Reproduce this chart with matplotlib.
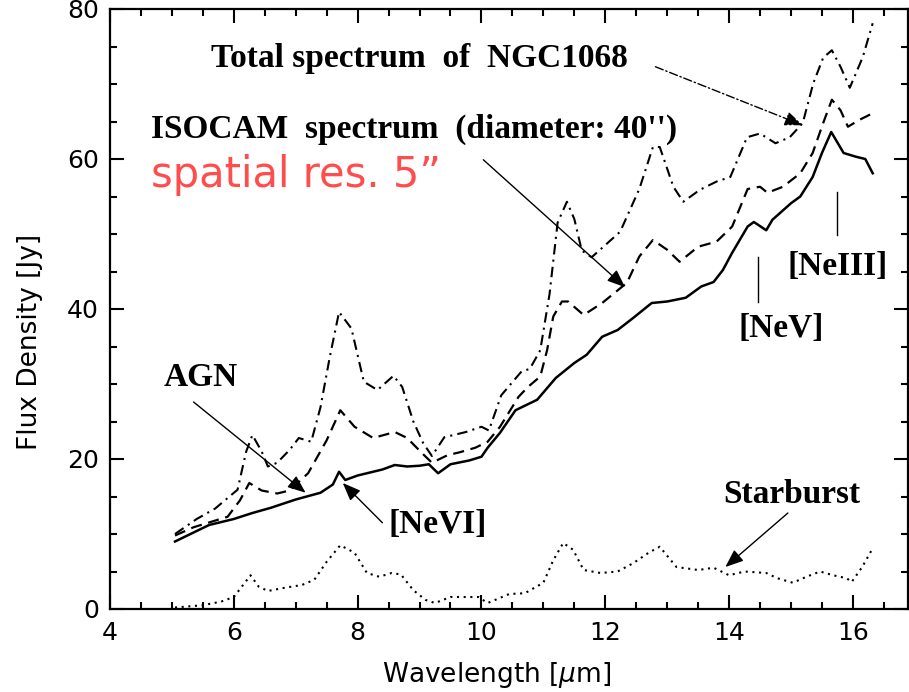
import matplotlib
matplotlib.use("Agg")
import matplotlib.pyplot as plt
from matplotlib.ticker import MultipleLocator

# solid: AGN / central spectrum
agn_x = [5.05, 5.3, 5.6, 6.0, 6.3, 6.6, 7.0, 7.4, 7.6, 7.7, 7.8, 8.0, 8.2, 8.4, 8.6,
         8.8, 9.0, 9.15, 9.3, 9.5, 9.8, 10.0, 10.1, 10.3, 10.55, 10.9, 11.2, 11.5,
         11.7, 11.95, 12.2, 12.45, 12.75, 13.0, 13.3, 13.55, 13.75, 13.9, 14.05,
         14.3, 14.4, 14.6, 14.7, 15.0, 15.15, 15.35, 15.5, 15.65, 15.85, 16.05,
         16.2, 16.32]
agn_y = [9.0, 10.0, 11.2, 12.0, 12.8, 13.5, 14.6, 15.5, 16.6, 18.3, 17.2, 17.8, 18.2,
         18.6, 19.2, 19.0, 19.1, 19.3, 18.1, 19.3, 19.8, 20.3, 21.5, 23.5, 26.5, 27.9,
         30.8, 32.8, 33.9, 36.3, 37.2, 38.8, 40.8, 41.0, 41.5, 43.0, 43.6, 45.2, 47.5,
         51.0, 51.6, 50.5, 51.9, 54.1, 55.0, 57.6, 60.8, 63.6, 60.8, 60.3, 60.0, 58.1]

# dashed: ISOCAM spectrum
iso_x = [5.05, 5.35, 5.9, 6.1, 6.25, 6.45, 6.7, 6.9, 7.2, 7.5, 7.72, 7.95, 8.25, 8.6,
         8.8, 9.05, 9.2, 9.45, 9.65, 9.9, 10.1, 10.3, 10.6, 10.75, 10.95, 11.06, 11.16,
         11.3, 11.4, 11.65, 11.95, 12.35, 12.55, 12.77, 13.0, 13.2, 13.5, 13.8, 14.05,
         14.3, 14.5, 14.62, 14.87, 15.15, 15.35, 15.52, 15.66, 15.8, 15.92, 16.1, 16.32]
iso_y = [9.8, 10.9, 12.3, 14.5, 16.8, 15.8, 15.4, 15.8, 18.1, 22.5, 26.5, 24.3, 22.8,
         23.6, 22.8, 20.7, 19.5, 20.5, 20.9, 21.5, 22.3, 24.3, 28.3, 29.6, 31.0, 34.5,
         39.0, 41.0, 41.0, 39.2, 40.8, 43.5, 47.0, 49.2, 47.9, 46.3, 48.3, 49.0, 51.0,
         56.0, 56.3, 55.5, 56.3, 58.1, 60.8, 64.8, 67.9, 66.5, 64.3, 65.2, 66.1]

# dash-dot: total spectrum of NGC1068
tot_x = [5.05, 5.4, 5.7, 5.9, 6.06, 6.2, 6.3, 6.45, 6.55, 6.7, 6.9, 7.05, 7.25, 7.4,
         7.55, 7.7, 7.9, 8.1, 8.32, 8.58, 8.72, 8.9, 9.06, 9.2, 9.4, 9.75, 10.0, 10.12,
         10.32, 10.65, 10.78, 10.95, 11.1, 11.23, 11.38, 11.5, 11.62, 11.78, 11.97,
         12.24, 12.55, 12.77, 12.88, 13.1, 13.26, 13.53, 13.8, 14.02, 14.29, 14.5,
         14.75, 14.98, 15.19, 15.36, 15.52, 15.66, 15.8, 15.95, 16.16, 16.32]
tot_y = [10.0, 12.0, 13.4, 14.8, 15.9, 21.0, 23.2, 21.0, 19.0, 19.5, 21.2, 22.8, 22.3,
         26.9, 33.6, 39.6, 37.4, 30.3, 29.2, 31.1, 29.6, 25.0, 22.1, 20.4, 22.9, 23.6,
         24.3, 23.8, 28.5, 31.7, 32.0, 34.5, 42.0, 51.5, 54.3, 52.0, 47.8, 46.9, 48.3,
         50.3, 56.0, 61.6, 61.6, 56.3, 54.3, 55.9, 57.0, 57.6, 62.9, 63.4, 62.1, 62.9,
         64.8, 70.1, 73.5, 74.5, 72.3, 69.5, 73.6, 78.1]

# dotted: starburst
sb_x = [5.05, 5.5, 5.8, 6.0, 6.15, 6.27, 6.4, 6.55, 6.8, 7.1, 7.3, 7.5, 7.72, 7.95,
        8.15, 8.35, 8.55, 8.7, 8.9, 9.1, 9.25, 9.5, 9.95, 10.1, 10.45, 10.7, 11.0,
        11.16, 11.32, 11.48, 11.65, 11.92, 12.2, 12.45, 12.7, 12.88, 13.15, 13.5,
        13.75, 14.0, 14.25, 14.6, 14.78, 15.03, 15.25, 15.47, 15.68, 15.9, 15.98,
        16.15, 16.32]
sb_y = [0.2, 0.5, 1.0, 1.6, 3.2, 4.5, 3.0, 2.4, 2.8, 3.2, 3.9, 6.3, 8.5, 7.5, 4.8, 4.3,
        4.8, 4.6, 2.5, 1.2, 0.8, 1.6, 1.6, 0.8, 2.0, 2.1, 3.5, 6.5, 8.8, 7.9, 5.2, 4.8,
        5.0, 6.1, 7.5, 8.3, 5.6, 5.2, 5.5, 4.5, 5.0, 4.8, 4.1, 3.5, 4.3, 5.0, 4.5, 4.1,
        3.6, 5.6, 8.1]

serif = "Liberation Serif"

fig = plt.figure(figsize=(9.09, 6.92), dpi=100)
ax = fig.add_axes([110/909, 83/692, 798/909, 600/692])

ax.plot(agn_x, agn_y, color="black", lw=1.8)
ax.plot(iso_x, iso_y, color="black", lw=1.6, linestyle=(0, (5, 3)))
ax.plot(tot_x, tot_y, color="black", lw=1.5, linestyle=(0, (5, 2.5, 1, 2.5)))
ax.plot(sb_x, sb_y, color="black", lw=1.5, linestyle=(0, (1, 2.2)))

ax.set_xlim(4, 16.89)
ax.set_ylim(0, 80)
ax.xaxis.set_major_locator(MultipleLocator(2))
ax.xaxis.set_minor_locator(MultipleLocator(0.5))
ax.yaxis.set_major_locator(MultipleLocator(20))
ax.yaxis.set_minor_locator(MultipleLocator(5))
ax.tick_params(which="both", direction="in", top=True, right=True, width=1.5)
ax.tick_params(which="major", length=10, labelsize=18)
ax.tick_params(which="minor", length=5)
ax.tick_params(axis="x", pad=9)
ax.tick_params(axis="y", pad=8)
for s in ax.spines.values():
    s.set_linewidth(1.6)

fig.text(497/909, 1 - 675/692, r"Wavelength [$\mu$m]", ha="center", va="center", fontsize=19)
fig.text(30/909, 1 - 342/692, "Flux Density [Jy]", ha="center", va="center",
         rotation=90, fontsize=19)

bold = dict(family=serif, fontweight="bold", fontsize=24, color="black")
ax.text(5.63, 72.3, "Total spectrum  of  NGC1068", **bold)
ax.text(4.66, 62.8, "ISOCAM  spectrum  (diameter: 40'')", **bold)
ax.text(4.66, 56.3, "spatial res. 5\u201d", fontsize=30, color="#ff4d4d")
ax.text(4.87, 29.7, "AGN", **bold)
ax.text(8.5, 10.1, "[NeVI]", **bold)
ax.text(14.16, 36.3, "[NeV]", **bold)
ax.text(14.94, 44.5, "[NeIII]", **bold)
ax.text(13.9, 14.1, "Starburst", **bold)

arrow = dict(arrowstyle="-|>,head_length=0.5,head_width=0.2", color="black", lw=1.0,
             mutation_scale=22, shrinkA=0, shrinkB=0)
ax.annotate("", xy=(15.19, 64.5), xytext=(12.81, 72.3),
            arrowprops=dict(arrow, linestyle=(0, (6, 2, 1, 2))))
ax.annotate("", xy=(12.32, 42.9), xytext=(10.03, 59.9), arrowprops=arrow)
ax.annotate("", xy=(7.16, 15.5), xytext=(5.35, 27.6), arrowprops=arrow)
ax.annotate("", xy=(7.76, 16.8), xytext=(8.4, 11.5), arrowprops=arrow)
ax.annotate("", xy=(13.94, 5.6), xytext=(14.95, 12.8), arrowprops=arrow)

ax.plot([14.47, 14.47], [41.0, 46.9], color="black", lw=1.0)
ax.plot([15.74, 15.74], [49.9, 55.6], color="black", lw=1.0)

fig.savefig("out.png", dpi=100)
